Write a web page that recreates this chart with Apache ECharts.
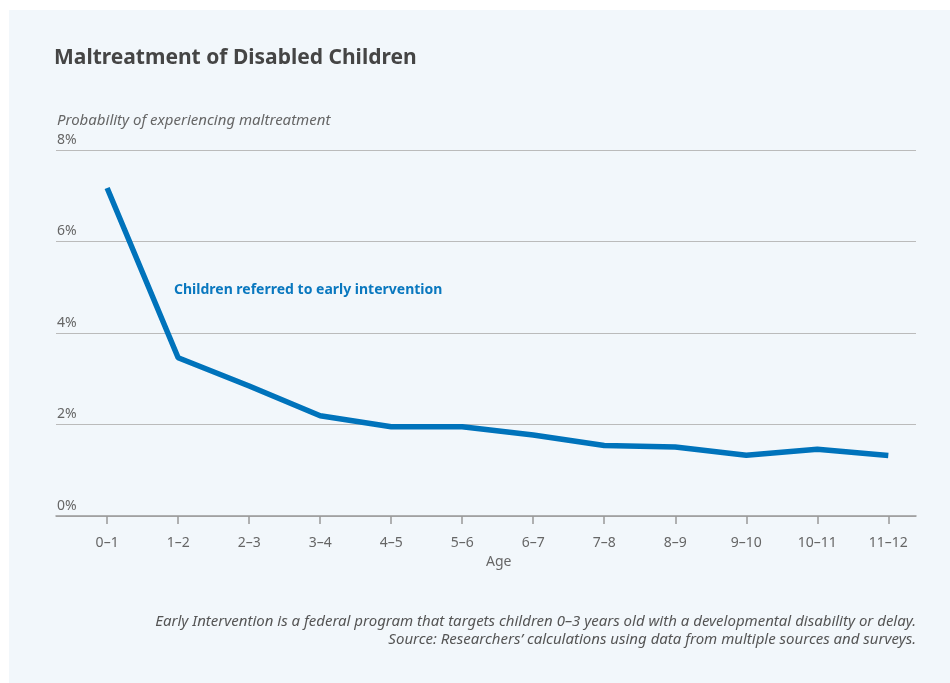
<!DOCTYPE html>
<html>
<head>
<meta charset="utf-8">
<script src="https://cdn.jsdelivr.net/npm/echarts@6/dist/echarts.min.js"></script>
<style>
  html, body { margin: 0; padding: 0; background: #fff; }
  #chart { width: 950px; height: 683px; }
</style>
</head>
<body>
<div id="chart"></div>
<script>
var ages = ['0–1', '1–2', '2–3', '3–4', '4–5', '5–6', '6–7', '7–8', '8–9', '9–10', '10–11', '11–12'];
var probability = [7.17, 3.46, 2.84, 2.19, 1.95, 1.95, 1.77, 1.54, 1.51, 1.33, 1.46, 1.32];
var yTicks = [0, 2, 4, 6, 8];

var myChart = echarts.init(document.getElementById('chart'));
var font = '"Noto Sans", sans-serif';
var idx = ages.map(function (a, i) { return i; });

var option = {
    backgroundColor: '#fff',
    animation: false,
    textStyle: { fontFamily: font },
    graphic: [
        {
            type: 'rect', z: -10, silent: true,
            shape: { x: 9, y: 10, width: 941, height: 673 },
            style: { fill: '#f2f7fb' }
        },
        {
            type: 'text', left: 54, top: 48,
            style: { text: 'Maltreatment of Disabled Children', fontFamily: font, fontSize: 21, fontWeight: 'bold', fill: '#454545' }
        },
        {
            type: 'text', left: 57, top: 113,
            style: { text: 'Probability of experiencing maltreatment', fontFamily: font, fontSize: 15, fontStyle: 'italic', fill: '#666' }
        },
        {
            type: 'text', left: 174, top: 283,
            style: { text: 'Children referred to early intervention', fontFamily: font, fontSize: 14, fontWeight: 'bold', fill: '#0a78bf' }
        },
        {
            type: 'text', left: 486, top: 555,
            style: { text: 'Age', fontFamily: font, fontSize: 14, fill: '#666' }
        },
        {
            type: 'text', right: 34, top: 614,
            style: {
                text: 'Early Intervention is a federal program that targets children 0–3 years old with a developmental disability or delay.',
                fontFamily: font, fontSize: 15, fontStyle: 'italic', fill: '#555'
            }
        },
        {
            type: 'text', right: 34, top: 632,
            style: {
                text: 'Source: Researchers’ calculations using data from multiple sources and surveys.',
                fontFamily: font, fontSize: 15, fontStyle: 'italic', fill: '#555'
            }
        }
    ],
    grid: { left: 56, right: 34, top: 150, bottom: 167 },
    xAxis: {
        type: 'value',
        min: -0.72,
        max: 11.39,
        splitLine: { show: false },
        axisLine: { show: true, lineStyle: { color: '#999', width: 1.5 } },
        axisTick: { show: true, customValues: idx, length: 8, lineStyle: { color: '#999', width: 1.5 } },
        axisLabel: {
            customValues: idx, margin: 20, color: '#666', fontSize: 14,
            formatter: function (v) { return ages[Math.round(v)]; }
        }
    },
    yAxis: {
        type: 'value',
        min: 0, max: 8, interval: 2,
        axisLine: { show: false },
        axisTick: { show: false },
        splitLine: { lineStyle: { color: '#bbb', width: 1 } },
        axisLabel: {
            inside: true, margin: 1, verticalAlign: 'bottom', padding: [0, 0, 3, 0],
            color: '#666', fontSize: 14,
            formatter: function (v) { return yTicks.indexOf(v) >= 0 ? v + '%' : ''; }
        }
    },
    series: [
        {
            name: 'Children referred to early intervention',
            type: 'line',
            data: probability.map(function (v, i) { return [i, v]; }),
            symbol: 'none',
            lineStyle: { color: '#0073bb', width: 5.5 }
        }
    ]
};

myChart.setOption(option);
</script>
</body>
</html>
